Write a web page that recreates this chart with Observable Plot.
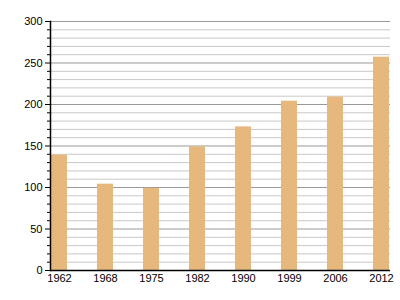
<!DOCTYPE html>
<html><head><meta charset="utf-8">
<script src="https://cdn.jsdelivr.net/npm/d3@7"></script>
<script src="https://cdn.jsdelivr.net/npm/@observablehq/plot@0.6"></script>
<style>body{margin:0;background:#fff}</style>
</head><body><div id="chart"></div>
<script>
const years = ["1962","1968","1975","1982","1990","1999","2006","2012"];
const values = [139, 104, 99, 149, 173, 204, 209, 257];
const majorTicks = [0, 50, 100, 150, 200, 250, 300];
const minorTicks = [10,20,30,40,60,70,80,90,110,120,130,140,160,170,180,190,210,220,230,240,260,270,280,290];

const data = years.map((y, i) => ({year: y, value: values[i]}));

const chart = Plot.plot({
  width: 400, height: 300,
  marginLeft: 50, marginRight: 10, marginTop: 21, marginBottom: 30,
  style: {fontFamily: "'Liberation Sans', Arial, sans-serif", fontSize: "11px", color: "#000", background: "#fff"},
  x: {domain: years, paddingInner: 0.65, paddingOuter: 0.0, label: null},
  y: {domain: [0, 300], label: null},
  marks: [
    Plot.ruleY(minorTicks, {stroke: "#c8c8c8", strokeWidth: 1}),
    Plot.ruleY(majorTicks, {stroke: "#999", strokeWidth: 1}),
    Plot.barY(data, {x: "year", y: "value", fill: "#e6b87d"}),
    Plot.axisY(majorTicks, {tickSize: 5, tickPadding: 3, stroke: "#000", fill: "#000", label: null}),
    Plot.axisY(minorTicks, {tickSize: 3, text: null, stroke: "#000", label: null}),
    Plot.axisX({tickSize: 0, tickPadding: 4, fill: "#000", label: null}),
    Plot.ruleY([0], {stroke: "#000", strokeWidth: 1.5}),
    Plot.frame({anchor: "left", stroke: "#000", strokeWidth: 1.5})
  ]
});
document.getElementById("chart").appendChild(chart);
</script>
</body></html>
